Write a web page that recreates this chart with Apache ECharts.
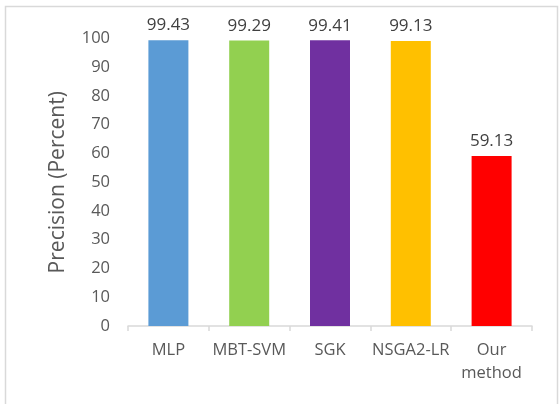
<!DOCTYPE html>
<html>
<head>
<meta charset="utf-8">
<script src="https://cdn.jsdelivr.net/npm/echarts@6/dist/echarts.min.js"></script>
<style>
  html, body { margin: 0; padding: 0; background: #fff; }
  #chart { width: 559px; height: 404px; }
</style>
</head>
<body>
<div id="chart"></div>
<script>
// Precision of each method, in percent
const methods = ['MLP', 'MBT-SVM', 'SGK', 'NSGA2-LR', 'Our\nmethod'];
const precision = [99.43, 99.29, 99.41, 99.13, 59.13];
const barColors = ['#5b9bd5', '#92d050', '#7030a0', '#ffc000', '#ff0000'];
const yTicks = [0, 10, 20, 30, 40, 50, 60, 70, 80, 90, 100];

const font = '"Open Sans", "Noto Sans", sans-serif';
const textColor = '#595959';

const chart = echarts.init(document.getElementById('chart'), null, { renderer: 'canvas' });

chart.setOption({
  animation: false,
  backgroundColor: '#ffffff',
  graphic: [{
    type: 'rect',
    shape: { x: 5.5, y: 6.5, width: 552, height: 410 },
    style: { fill: 'none', stroke: '#d9d9d9', lineWidth: 1.5 },
    silent: true,
    z: -10
  }],
  grid: { left: 128, right: 27, top: 38.5, bottom: 78 },
  xAxis: {
    type: 'category',
    data: methods,
    axisLine: { lineStyle: { color: '#d9d9d9', width: 1.5 } },
    axisTick: { show: true, length: 5, lineStyle: { color: '#d9d9d9', width: 1.5 } },
    axisLabel: {
      color: textColor, fontFamily: font, fontSize: 16.5, margin: 13, lineHeight: 23, interval: 0
    }
  },
  yAxis: {
    type: 'value',
    min: yTicks[0],
    max: yTicks[yTicks.length - 1],
    interval: 10,
    name: 'Precision (Percent)',
    nameLocation: 'middle',
    nameGap: 59,
    nameTextStyle: { color: textColor, fontFamily: font, fontSize: 21 },
    axisLine: { show: false },
    axisTick: { show: false },
    splitLine: { show: false },
    axisLabel: { color: textColor, fontFamily: font, fontSize: 16.5, margin: 18 }
  },
  series: [{
    type: 'bar',
    barWidth: 40,
    data: precision.map((v, i) => ({ value: v, itemStyle: { color: barColors[i] } })),
    label: {
      show: true,
      position: 'top',
      distance: 6,
      color: '#404040',
      fontFamily: font,
      fontSize: 17,
      formatter: p => p.value.toFixed(2)
    }
  }]
});
</script>
</body>
</html>
